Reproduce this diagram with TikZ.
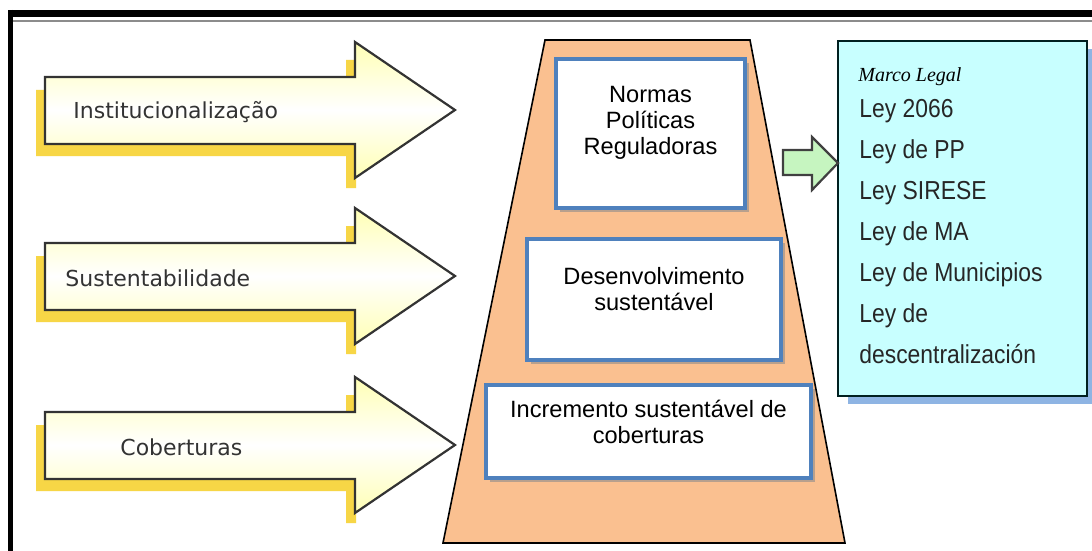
\documentclass[tikz,border=0pt]{standalone}
\usepackage{fontspec}
\setmainfont{Liberation Sans}
\newfontfamily\arrowfont{DejaVu Sans}
\newfontfamily\leyfont[FakeStretch=0.88]{Liberation Sans}
\newfontfamily\marcofont{Liberation Serif}
\usetikzlibrary{positioning,shadows}

\definecolor{peach}{RGB}{250,192,144}
\definecolor{layerblue}{RGB}{79,129,189}
\definecolor{arrowgold}{RGB}{247,214,70}
\definecolor{arrowpale}{RGB}{255,255,180}
\definecolor{legalcyan}{RGB}{200,255,255}
\definecolor{legalshadow}{RGB}{142,180,227}
\definecolor{greenpale}{RGB}{198,245,192}

\tikzset{
  layer/.style={draw=layerblue, line width=2.2pt, fill=white,
    drop shadow={shadow xshift=1.8pt, shadow yshift=-1.8pt, fill=black!45, opacity=0.6}},
  layertext/.style={font=\fontsize{11.8}{13}\selectfont, align=center, inner sep=0pt, anchor=north},
  arrowtext/.style={font=\arrowfont\fontsize{11}{12}\selectfont, text=black!80, anchor=west, inner sep=0pt},
}

\begin{document}
\begin{tikzpicture}[x=0.5pt, y=-0.5pt]
        \useasboundingbox[fill=white] (0, 0) rectangle (1092, 551);

        % frame
        \draw[black, line width=3.5pt] (8, 13.5) -- (1092, 13.5);
        \draw[black!45, line width=1pt] (13, 21) -- (1092, 21);
        \draw[black, line width=2.5pt] (10.5, 10) -- (10.5, 551);

        % yellow arrows with their labels
        \foreach \c/\name/\lx/\txt in {110/inst/73/Institucionalização, 276/sust/65/Sustentabilidade, 445/cob/120/Coberturas} {
            \fill[arrowgold] (36, \c-20) -- (36, \c+46) -- (346, \c+46) -- (346, \c+78) -- (356, \c+78) -- (356, \c-50) -- (346, \c-50) -- (346, \c-20) -- cycle;
            \draw[black!80, line width=1.1pt, top color=arrowpale, bottom color=arrowpale, middle color=white]
                (45, \c-33) -- (355, \c-33) -- (355, \c-68) -- (455, \c) -- (355, \c+68) -- (355, \c+34) -- (45, \c+34) -- cycle;
            \node[arrowtext] (\name) at (\lx, \c+2) {\txt};
        }

        % trapezoid
        \draw[black, line width=0.8pt, fill=peach] (545, 40) -- (750, 40) -- (845, 543) -- (443, 543) -- cycle;

        % layers
        \node[layer, minimum width=94.5pt, minimum height=74.5pt] (normas) at (650.5, 133.5) {};
        \node[layer, minimum width=127pt, minimum height=60.5pt] (desenv) at (654, 299.5) {};
        \node[layer, minimum width=162.5pt, minimum height=46.5pt] (increm) at (648.5, 431.5) {};

        \node[layertext, below=14.5pt of normas.north] (normastxt) {Normas\\Políticas\\Reguladoras};
        \node[layertext, below=15pt of desenv.north] (desenvtxt) {Desenvolvimento\\sustentável};
        \node[layertext, below=8.5pt of increm.north] (incremtxt) {Incremento sustentável de\\coberturas};

        % marco legal
        \node[draw=black!75!teal, line width=1.2pt, fill=legalcyan, minimum width=124.5pt, minimum height=177.5pt,
              drop shadow={shadow xshift=5pt, shadow yshift=-4pt, fill=legalshadow, opacity=1}] (legal) at (962.5, 218.5) {};
        \node[anchor=base west, inner sep=0pt, font=\marcofont\itshape\fontsize{10}{12}\selectfont] (marco) at (858, 82) {Marco Legal};
        \node[anchor=north west, inner sep=0pt, align=left, text=black!85, font=\leyfont\fontsize{13}{20.5}\selectfont] (leyes) at (859, 99)
            {Ley 2066\\Ley de PP\\Ley SIRESE\\Ley de MA\\Ley de Municipios\\Ley de\\descentralización};

        % green arrow
        \draw[black!75, line width=1.1pt, fill=greenpale] (783, 150) -- (812, 150) -- (812, 137) -- (838, 163) -- (812, 190) -- (812, 175) -- (783, 175) -- cycle;
    \end{tikzpicture}
\end{document}
